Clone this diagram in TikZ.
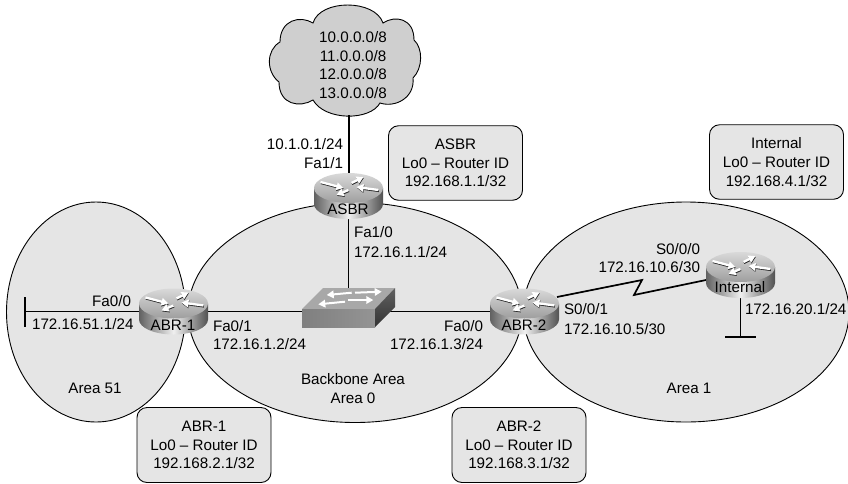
\documentclass[tikz,border=0pt]{standalone}
\usepackage{fontspec}
\setmainfont{Liberation Sans}
\usetikzlibrary{arrows.meta}
\definecolor{areagray}{gray}{0.90}
\definecolor{cloudgray}{gray}{0.81}
\tikzset{
  x=1pt,y=-1pt,
  every node/.style={inner sep=0pt,outer sep=0pt,font=\fontsize{15.2}{18.6}\selectfont},
  lbl/.style={text height=11pt,text depth=0pt},
  area/.style={draw=black,line width=0.9pt,fill=areagray},
  infobox/.style={draw=black,line width=0.9pt,fill=areagray,rounded corners=10pt,minimum width=134pt,minimum height=74.5pt,align=center},
  link/.style={draw=black,line width=1.7pt},
  routerbox/.style={minimum width=69pt,minimum height=46pt},
  wa/.style={draw=white,line width=2.3pt,-{Triangle[width=7.5pt,length=7pt]}},
  sh/.style={draw=black!85,line width=2.3pt,-{Triangle[width=7.5pt,length=7pt]}},
  pics/router/.style={code={
    \path[left color=black!62,right color=black!68,middle color=black!6]
      (-34.5,-8) -- (-34.5,8) .. controls (-34.5,16.3) and (-19,23) .. (0,23)
      .. controls (19,23) and (34.5,16.3) .. (34.5,8) -- (34.5,-8) -- cycle;
    \path[top color=black!15,bottom color=black!38] (0,-8) ellipse[x radius=34.5,y radius=15];
    \foreach \xa/\ya/\xb/\yb in {-28/-14/-5/-8, 3/-13/15/-19, 30/-6/8/-9, 0/-6/-12/-1}{
      \draw[sh] ([shift={(0.4,0.9)}]\xa,\ya) -- ([shift={(0.4,0.9)}]\xb,\yb);
      \draw[wa] (\xa,\ya) -- (\xb,\yb);
    }
  }}
}
\begin{document}
\begin{tikzpicture}
\useasboundingbox (0,0) rectangle (848,483);
% areas
\path[area] (96,312) ellipse[x radius=89.5,y radius=110];
\path[area] (355,312.5) ellipse[x radius=167,y radius=110];
\path[area] (686,312) ellipse[x radius=163,y radius=110];
% cloud
\path[draw=black,line width=0.9pt,fill=cloudgray]
  (313,23) .. controls (320,-1) and (375,-1) .. (383,23)
  .. controls (395,15) and (414,18) .. (414,40)
  .. controls (423,48) and (423,68) .. (413,78)
  .. controls (415,98) and (395,108) .. (380,103)
  .. controls (370,121) and (325,121) .. (313,100)
  .. controls (300,108) and (279,105) .. (279,82)
  .. controls (266,72) and (266,50) .. (280,42)
  .. controls (280,20) and (300,15) .. (313,23) -- cycle;
\node[align=center] (nets) at (353,65) {10.0.0.0/8\\11.0.0.0/8\\12.0.0.0/8\\13.0.0.0/8};
\coordinate (cloudb) at (349,115);
% anchor nodes
\node[routerbox] (asbr) at (348.5,196) {};
\node[routerbox] (abr1) at (173.5,311.5) {};
\node[routerbox] (abr2) at (524.5,311.5) {};
\node[routerbox] (intr) at (740.5,275) {};
\node[minimum width=93pt,minimum height=39pt] (sw) at (348.5,307.5) {};
\coordinate (swr) at (378,312);
% connectors
\coordinate (lanl) at (25,311.5);
\coordinate (lanlt) at (25,297);
\coordinate (lanlb) at (25,327);
\coordinate (lanr) at (740.5,337);
\coordinate (lanrl) at (725,337);
\coordinate (lanrr) at (756,337);
\coordinate (s1) at (557,297);
\coordinate (k1) at (642,280);
\coordinate (k2) at (634,295);
\coordinate (s2) at (706,280);
\draw[link] (cloudb) -- (cloudb |- asbr.north);
\draw[link] (abr1.west) -- (lanl);
\draw[link] (lanlt) -- (lanlb);
\draw[link] (abr1.east) -- (abr1.east -| sw.west);
\draw[link] (abr2.west) -- (swr |- abr2.west);
\draw[link] (asbr.south) -- (asbr.south |- sw.north);
\draw[link] (s1) -- (k1) -- (k2) -- (s2);
\draw[link] (intr.south) -- (lanr);
\draw[link] (lanrl) -- (lanrr);
% switch
\path[fill=black!34] (302,309) -- (323,288) -- (395,288) -- (375,309) -- cycle;
\path[left color=black!50,right color=black!42] (302,309) rectangle (375,327);
\path[top color=black!62,bottom color=black!80] (375,309) -- (395,288) -- (395,307) -- (375,327) -- cycle;
\foreach \xa/\ya/\xb/\yb in {351.7/292.7/326.7/295, 355/292.7/381.7/291.7, 345/301.7/318.3/304.3, 348.3/300/373.3/300}{
  \draw[wa,line width=2pt] (\xa,\ya) -- (\xb,\yb);
}
% routers
\pic at (asbr.center) {router};
\pic at (abr1.center) {router};
\pic at (abr2.center) {router};
\pic at (intr.center) {router};
% router labels
\node[lbl] (asbrl) at (348,209) {ASBR};
\node[lbl] (abr1l) at (173,325) {ABR-1};
\node[lbl] (abr2l) at (524,325) {ABR-2};
\node[lbl] (intrl) at (740,287) {Internal};
% interface labels
\node[lbl,anchor=east] (t1) at (343,144) {10.1.0.1/24};
\node[lbl,anchor=east] (t2) at (343,163) {Fa1/1};
\node[lbl,anchor=west] (t3) at (354,232) {Fa1/0};
\node[lbl,anchor=west] (t4) at (354,252) {172.16.1.1/24};
\node[lbl,anchor=east] (t5) at (131,301) {Fa0/0};
\node[lbl,anchor=east] (t6) at (133.5,324) {172.16.51.1/24};
\node[lbl,anchor=west] (t7) at (213,326) {Fa0/1};
\node[lbl,anchor=west] (t8) at (213,344) {172.16.1.2/24};
\node[lbl,anchor=east] (t9) at (483,326) {Fa0/0};
\node[lbl,anchor=east] (t10) at (483,344) {172.16.1.3/24};
\node[lbl,anchor=east] (t11) at (700,249) {S0/0/0};
\node[lbl,anchor=east] (t12) at (700,267) {172.16.10.6/30};
\node[lbl,anchor=west] (t13) at (564,309) {S0/0/1};
\node[lbl,anchor=west] (t14) at (564,329) {172.16.10.5/30};
\node[lbl,anchor=west] (t15) at (745,309) {172.16.20.1/24};
% area labels
\node[lbl] (a51) at (95,388) {Area 51};
\node[lbl] (a0a) at (353,379) {Backbone Area};
\node[lbl] (a0b) at (353,398) {Area 0};
\node[lbl] (a1) at (689,388) {Area 1};
% boxes
\node[infobox] (b1) at (455.5,163) {ASBR\\Lo0 – Router ID\\192.168.1.1/32};
\node[infobox] (b2) at (776.5,162) {Internal\\Lo0 – Router ID\\192.168.4.1/32};
\node[infobox,minimum height=75pt] (b3) at (204,445) {ABR-1\\Lo0 – Router ID\\192.168.2.1/32};
\node[infobox,minimum height=75pt] (b4) at (519,445) {ABR-2\\Lo0 – Router ID\\192.168.3.1/32};
\end{tikzpicture}
\end{document}
